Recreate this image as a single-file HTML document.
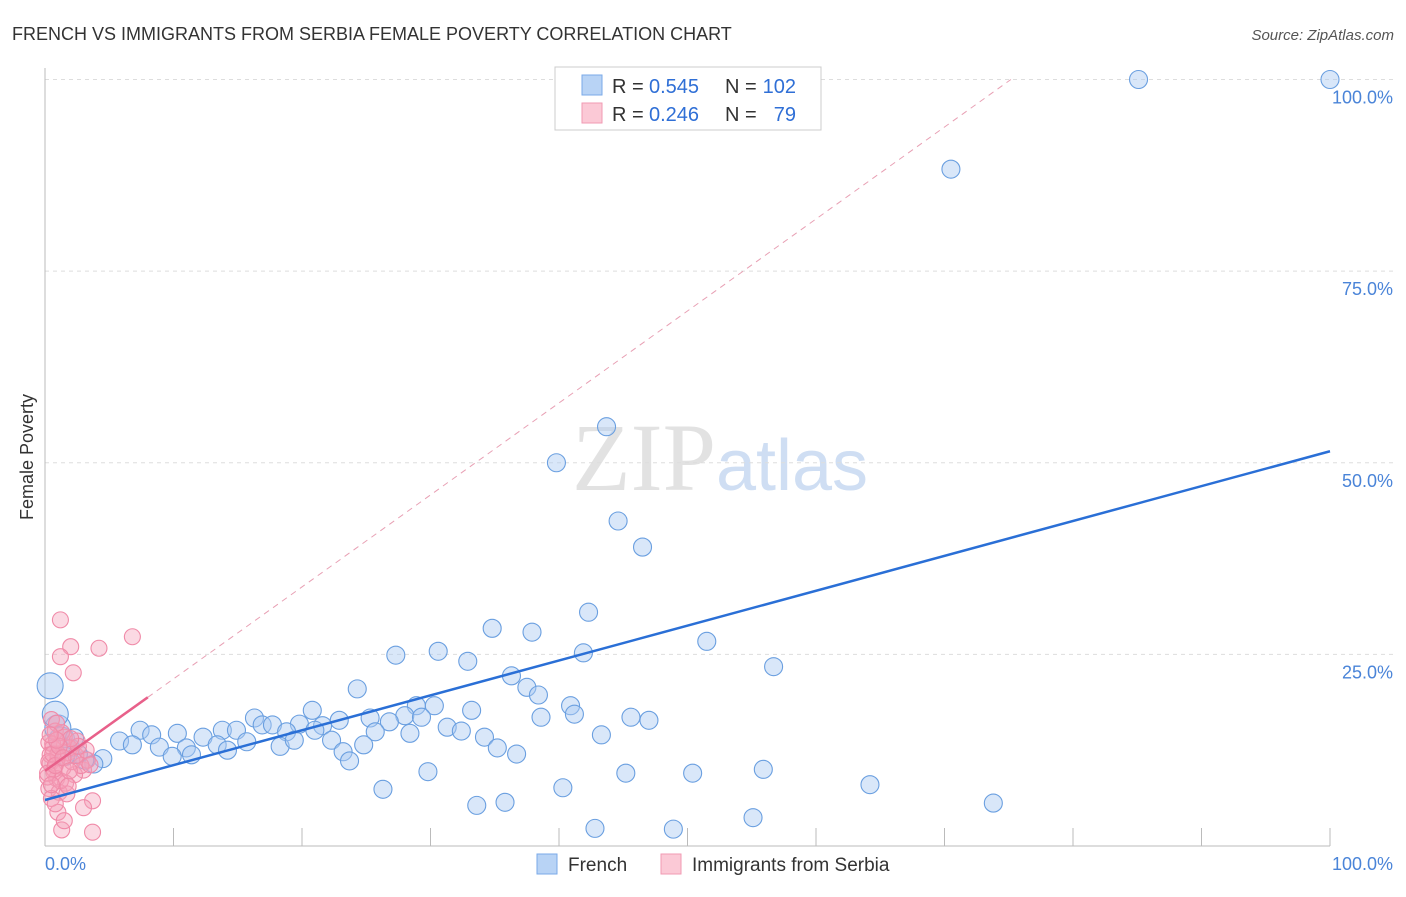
<!DOCTYPE html>
<html><head><meta charset="utf-8"><style>
body{margin:0;background:#fff;font-family:"Liberation Sans",sans-serif;}
svg text{font-family:"Liberation Sans",sans-serif;}
</style></head><body>
<svg id="chart" width="1406" height="892" xmlns="http://www.w3.org/2000/svg">
<text x="12" y="40" font-size="18" fill="#333">FRENCH VS IMMIGRANTS FROM SERBIA FEMALE POVERTY CORRELATION CHART</text>
<text x="1394" y="40" font-size="15" fill="#555" text-anchor="end" font-style="italic">Source: ZipAtlas.com</text>
<text transform="translate(33,457) rotate(-90)" font-size="18" fill="#333" text-anchor="middle">Female Poverty</text>
<text x="720" y="490" font-size="96" text-anchor="middle" fill="#ccc" opacity="0.55"><tspan font-family="Liberation Serif">ZIP</tspan><tspan fill="#a8c4ea" font-size="72">atlas</tspan></text>
<g id="grid"></g><g id="pts"></g><g id="lines"></g>
<g>
<rect x="555" y="67" width="266" height="63" fill="#fff" stroke="#ccc"/>
<rect x="582" y="75" width="20" height="20" fill="#b8d3f5" stroke="#7aaae8"/>
<rect x="582" y="103" width="20" height="20" fill="#fbc9d6" stroke="#f09ab3"/>
<text x="612" y="93" font-size="20" fill="#333">R =</text>
<text x="649" y="93" font-size="20" fill="#2f6fd6">0.545</text>
<text x="725" y="93" font-size="20" fill="#333">N =</text>
<text x="796" y="93" font-size="20" fill="#2f6fd6" text-anchor="end">102</text>
<text x="612" y="121" font-size="20" fill="#333">R =</text>
<text x="649" y="121" font-size="20" fill="#2f6fd6">0.246</text>
<text x="725" y="121" font-size="20" fill="#333">N =</text>
<text x="796" y="121" font-size="20" fill="#2f6fd6" text-anchor="end">79</text>
</g>
<g>
<rect x="537" y="854" width="20" height="20" fill="#b8d3f5" stroke="#7aaae8"/>
<text x="568" y="871" font-size="19" fill="#333">French</text>
<rect x="661" y="854" width="20" height="20" fill="#fbc9d6" stroke="#f09ab3"/>
<text x="692" y="871" font-size="19" fill="#333">Immigrants from Serbia</text>
</g>
</svg>
<script>
const blueX=[85.1,100,70.5,43.7,39.8,44.6,46.5,42.3,34.8,37.9,51.5,41.9,27.3,30.6,32.9,56.7,36.3,37.5,24.3,38.4,28.9,30.3,40.9,33.2,20.8,41.2,16.3,25.3,28,29.3,38.6,45.6,47,22.9,19.8,16.9,17.7,21.6,26.8,31.3,32.4,7.4,10.3,8.3,13.8,14.9,18.8,21,25.7,12.3,28.4,43.3,5.8,6.8,8.9,11,13.4,15.7,18.3,19.4,22.3,24.8,34.2,35.2,23.2,36.7,14.2,9.9,11.4,23.7,4.5,3.8,3.1,2.6,2,1.3,1,0.8,0.4,29.8,45.2,50.4,55.9,26.3,40.3,64.2,33.6,35.8,73.8,42.8,48.9,55.1,1.6,2.3];
const blueY=[100,100,88.3,54.7,50,42.4,39,30.5,28.4,27.9,26.7,25.2,24.9,25.4,24.1,23.4,22.2,20.7,20.5,19.7,18.3,18.3,18.3,17.7,17.7,17.2,16.7,16.7,17,16.8,16.8,16.8,16.4,16.4,15.9,15.8,15.8,15.7,16.2,15.5,15,15.1,14.7,14.5,15.1,15.1,14.9,15.1,14.9,14.2,14.7,14.5,13.7,13.2,12.9,12.8,13.2,13.6,13,13.8,13.8,13.2,14.2,12.8,12.3,12,12.5,11.7,11.9,11.1,11.4,10.7,11.2,12,12.8,13.8,15.4,17.2,20.9,9.7,9.5,9.5,10,7.4,7.6,8,5.3,5.7,5.6,2.3,2.2,3.7,11.7,14.1];
const pinkX=[1.2,2,1.2,4.2,6.8,2.2,3.7,3,3.7,1.3,1,3,3.3,2.3,0.5,0.8,1.5,0.3,0.6,1.8,2.5,1,0.4,1.4,0.7,2.1,0.9,1.6,0.3,1.1,2.8,0.5,1.9,0.6,1.3,2.4,0.8,1.7,0.2,3.2,0.9,1.5,2.6,0.4,1.2,0.7,2,3.5,1.8,1,0.3,0.6,1.1,0.2,0.8,1.4,0.5,0.9,1.9,0.4];
const pinkY=[29.5,26,24.7,25.8,27.3,22.6,5.9,5,1.8,2.1,4.4,9.9,11.2,9.3,16.5,15,14.2,13.5,12.8,12.2,13.7,11.5,10.8,10.2,9.6,11,8.8,8.2,7.5,7,10.5,6.2,12.8,13.3,14.8,11.8,5.5,6.8,9,12.5,16,3.3,13,11.9,8.5,10,14,10.6,7.8,12,11,12,13,9.5,10.5,11.5,8,13.8,9.8,14.5];
const blueTrend=[6.0,51.5];
const pinkTrend=[9.8,1.2];
const yTicks=[25,50,75,100];
const yTickLabels=["25.0%","50.0%","75.0%","100.0%"];
const X=v=>45+v*12.85, Y=v=>846-v*7.665;
const NS="http://www.w3.org/2000/svg";
function mk(t,a,p){const e=document.createElementNS(NS,t);for(const k in a)e.setAttribute(k,a[k]);p.appendChild(e);return e;}
const grid=document.getElementById('grid'),pts=document.getElementById('pts'),lines=document.getElementById('lines');
yTicks.forEach((t,i)=>{
 const l=mk('line',{x1:45,x2:1394,y1:Y(t),y2:Y(t),stroke:'#ddd','stroke-dasharray':'4,4'},grid);
 
 
 const tx=mk('text',{x:1393,y:Y(t)+24,'font-size':18,fill:'#4a84d8','text-anchor':'end'},grid);tx.textContent=yTickLabels[i];
 
 
});
mk('line',{x1:45,x2:45,y1:68,y2:846,stroke:'#bbb'},grid);
mk('line',{x1:45,x2:1330,y1:846,y2:846,stroke:'#bbb'},grid);
for(let i=1;i<=10;i++){const t=mk('line',{x1:X(i*10),x2:X(i*10),y1:828,y2:846,stroke:'#bbb'},grid);
 
 }
const x0=mk('text',{x:45,y:870,'font-size':18,fill:'#4a84d8'},grid);x0.textContent='0.0%';


const x1=mk('text',{x:1393,y:870,'font-size':18,fill:'#4a84d8','text-anchor':'end'},grid);x1.textContent='100.0%';


blueX.forEach((x,i)=>{const c=mk('circle',{cx:X(x),cy:Y(blueY[i]),r:(x<1.5?13:9),fill:'rgba(170,202,242,0.45)',stroke:'#6a9fe0','stroke-width':1.1},pts);
 
 });
pinkX.forEach((x,i)=>{const c=mk('circle',{cx:X(x),cy:Y(pinkY[i]),r:8,fill:'rgba(245,160,185,0.4)',stroke:'#f08aa8','stroke-width':1.1},pts);
 
 });
const bl=mk('line',{x1:X(0),y1:Y(blueTrend[0]),x2:X(100),y2:Y(blueTrend[1]),stroke:'#2a6fd6','stroke-width':2.5},lines);


const pEnd=8, xTop=(100-pinkTrend[0])/pinkTrend[1];
const pd=mk('line',{x1:X(pEnd),y1:Y(pinkTrend[0]+pinkTrend[1]*pEnd),x2:X(xTop),y2:Y(100),stroke:'#e8a0b4','stroke-width':1,'stroke-dasharray':'6,5'},lines);


const pl=mk('line',{x1:X(0),y1:Y(pinkTrend[0]),x2:X(pEnd),y2:Y(pinkTrend[0]+pinkTrend[1]*pEnd),stroke:'#e8608a','stroke-width':2.5},lines);


</script>
</body></html>
